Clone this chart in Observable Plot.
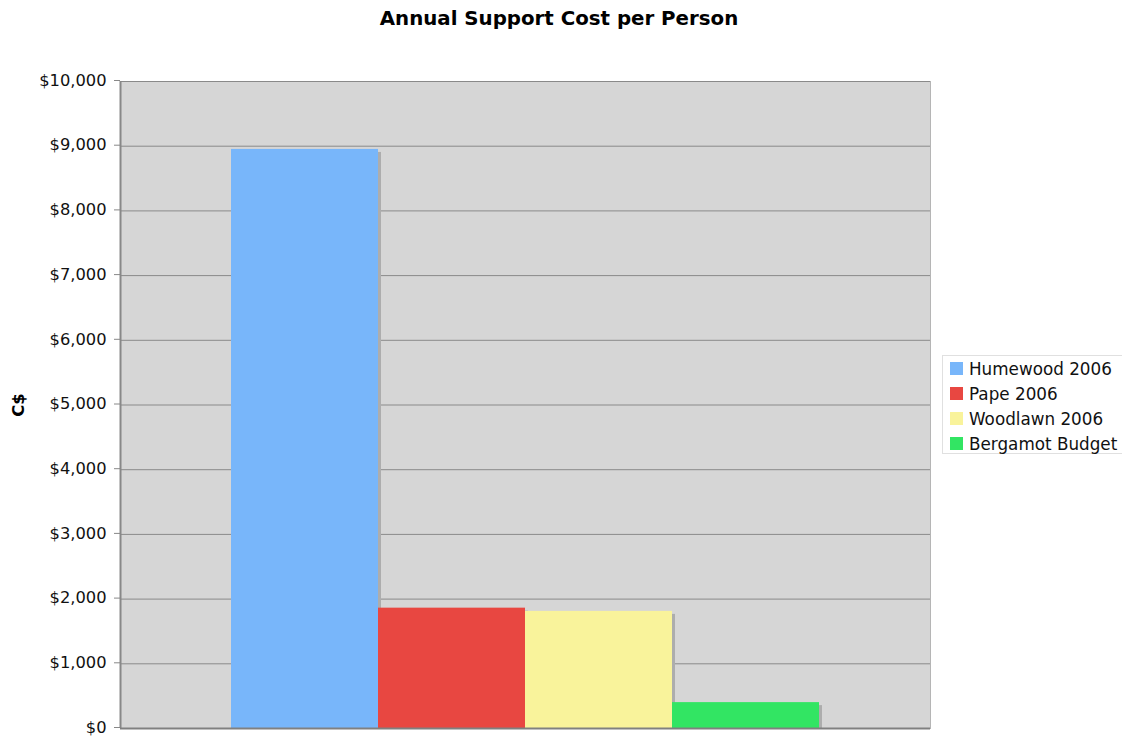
<!DOCTYPE html>
<html>
<head>
<meta charset="utf-8">
<script src="https://cdn.jsdelivr.net/npm/d3@7"></script>
<script src="https://cdn.jsdelivr.net/npm/@observablehq/plot@0.6"></script>
<style>
  body { margin: 0; background: #fff; font-family: "DejaVu Sans", Verdana, sans-serif; overflow: hidden; }
  #wrap { position: relative; width: 1122px; height: 736px; }
  #title { height: 40px; line-height: 38px; width: 1118px; text-align: center; font-weight: bold; font-size: 19.8px; color: #000; }
  #legend { position: absolute; left: 942px; top: 355px; width: 180px; height: 99px; border: 1px solid #e0e0e0; border-right: none; box-sizing: border-box; padding: 0 0 0 7px; }
  .item { display: flex; align-items: center; height: 25px; font-size: 16.8px; color: #111; white-space: nowrap; }
  .sw { width: 13px; height: 13px; margin-right: 6px; flex: none; }
</style>
</head>
<body>
<div id="wrap">
  <div id="title">Annual Support Cost per Person</div>
  <div id="chart"></div>
  <div id="legend"></div>
</div>
<script>
const categories = ["Humewood 2006", "Pape 2006", "Woodlawn 2006", "Bergamot Budget"];
const costs = [8950, 1860, 1810, 400];
const colors = ["#78b6fa", "#e84741", "#f9f39b", "#32e563"];
const yTicks = [0, 1000, 2000, 3000, 4000, 5000, 6000, 7000, 8000, 9000, 10000];

const data = categories.map((c, i) => ({name: c, value: costs[i]}));
const fmt = d3.format("$,");

const chart = Plot.plot({
  width: 1122,
  height: 696,
  marginLeft: 120,
  marginRight: 192,
  marginTop: 41,
  marginBottom: 8,
  style: {fontFamily: "DejaVu Sans, Verdana, sans-serif", fontSize: "16px", color: "#111", background: "transparent", overflow: "visible"},
  x: {domain: categories, paddingInner: 0, paddingOuter: 0.755, axis: null},
  y: {domain: [0, 10000], ticks: yTicks},
  color: {domain: categories, range: colors},
  marks: [
    Plot.frame({fill: "#d6d6d6", stroke: "#b5b5b5"}),
    Plot.gridY(yTicks, {stroke: "#8a8a8a", strokeOpacity: 1, strokeWidth: 1}),
    Plot.barY(data, {x: "name", y: "value", fill: "#adadad", dx: 3, insetTop: 3}),
    Plot.barY(data, {x: "name", y: "value", fill: "name", inset: 0}),
    Plot.axisY({ticks: yTicks, tickFormat: fmt, tickSize: 6, tickPadding: 8, stroke: "#888", fontSize: 16.3,
      dy: -1, label: null}),
    Plot.axisY({ticks: [], label: "C$", labelAnchor: "center", labelArrow: "none", labelOffset: 108,
      fontSize: 16.5, fontWeight: "bold", fill: "#000"}),
    Plot.ruleX([0], {x: () => categories[0], stroke: "#888", strokeWidth: 2, dx: -147*0.755 - 73.5, y1: 0, y2: 10000}),
    Plot.ruleY([0], {stroke: "#808080", strokeWidth: 2})
  ]
});
document.getElementById("chart").appendChild(chart);

const leg = document.getElementById("legend");
categories.forEach((c, i) => {
  const d = document.createElement("div");
  d.className = "item";
  d.innerHTML = `<span class="sw" style="background:${colors[i]}"></span>${c}`;
  leg.appendChild(d);
});
</script>
</body>
</html>
